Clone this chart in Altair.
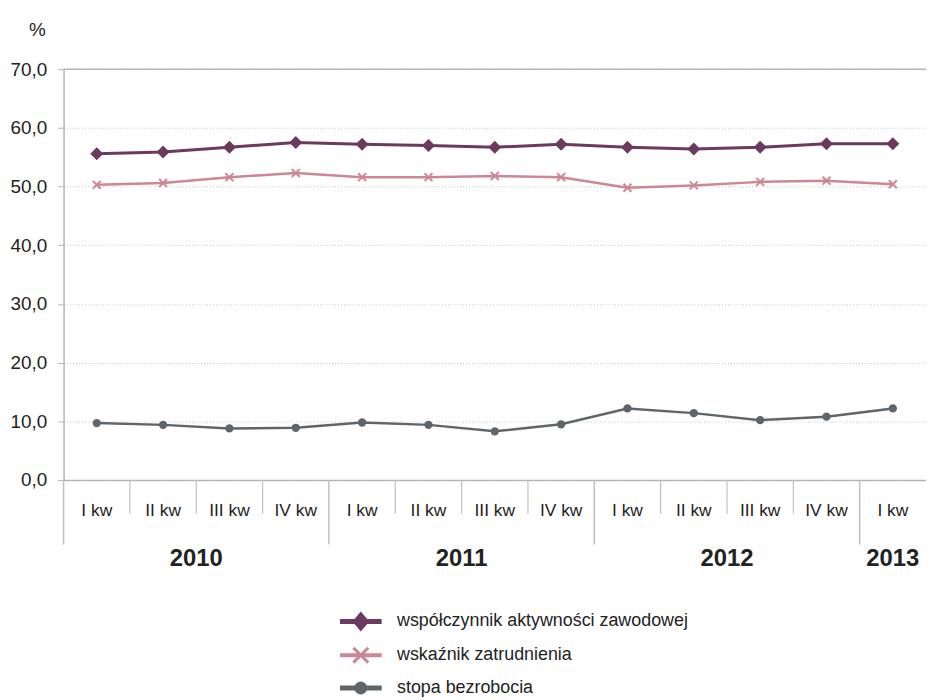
import math
import altair as alt
import pandas as pd

# ---- data ----
quarters = ["I kw", "II kw", "III kw", "IV kw",
            "I kw", "II kw", "III kw", "IV kw",
            "I kw", "II kw", "III kw", "IV kw",
            "I kw"]
years = ["2010", "2011", "2012", "2013"]
quarters_per_year = [4, 4, 4, 1]

activity = [55.6, 55.9, 56.7, 57.5, 57.2, 57.0, 56.7, 57.2, 56.7, 56.4, 56.7, 57.3, 57.3]
employment = [50.3, 50.6, 51.6, 52.3, 51.6, 51.6, 51.8, 51.6, 49.8, 50.2, 50.8, 51.0, 50.4]
unemployment = [9.7, 9.4, 8.8, 8.9, 9.8, 9.4, 8.3, 9.5, 12.2, 11.4, 10.2, 10.8, 12.2]

series_names = ["współczynnik aktywności zawodowej", "wskaźnik zatrudnienia", "stopa bezrobocia"]
y_ticks = [0, 10, 20, 30, 40, 50, 60, 70]
unit_label = "%"

# ---- styling ----
FONT = "Liberation Sans"
TXT = "#222222"
AX = "#b4b4b4"
C_ACT = "#6c3a5e"
C_EMP = "#cc8696"
C_UNE = "#5f6569"
W = 869
H = 414
N = len(quarters)

# ---- tables ----
pos = [i + 0.5 for i in range(N)]
df_act = pd.DataFrame({"x": pos, "y": activity})
df_emp = pd.DataFrame({"x": pos, "y": employment})
df_une = pd.DataFrame({"x": pos, "y": unemployment})
df_q = pd.DataFrame({"x": pos, "label": quarters})

starts = []
s = 0
for n in quarters_per_year:
    starts.append(s)
    s += n
df_years = pd.DataFrame({"x": [st + n / 2 for st, n in zip(starts, quarters_per_year)], "label": years})
df_ysep = pd.DataFrame({"x": starts})
df_qsep = pd.DataFrame({"x": [b for b in range(1, N) if b not in starts]})
df_top = pd.DataFrame({"y": [max(y_ticks)]})
df_leg = pd.DataFrame({"series": series_names})

xenc = alt.X("x:Q", scale=alt.Scale(domain=[0, N], nice=False, zero=False),
             axis=alt.Axis(labels=False, ticks=False, grid=False, title=None,
                           domainColor=AX, domainWidth=1.5))
yenc = alt.Y("y:Q", scale=alt.Scale(domain=[min(y_ticks), max(y_ticks)], nice=False),
             axis=alt.Axis(values=y_ticks,
                           labelExpr="replace(format(datum.value, '.1f'), '.', ',')",
                           grid=True, gridDash=[1, 2], gridColor="#c4c4c4",
                           tickSize=6, tickColor=AX, domainColor=AX, domainWidth=1.5,
                           labelFontSize=19, labelFont=FONT, labelColor=TXT, labelPadding=11,
                           title=unit_label, titleAngle=0, titleX=-27, titleY=-40,
                           titleAlign="center", titleBaseline="middle",
                           titleFontSize=19, titleFontWeight="normal", titleFont=FONT,
                           titleColor=TXT))

top_rule = alt.Chart(df_top).mark_rule(color=AX, strokeWidth=1.5).encode(
    y=yenc, x=alt.value(0), x2=alt.value(W))

qsep = alt.Chart(df_qsep).mark_rule(color="#c0c0c0", strokeWidth=1.2).encode(
    x=xenc, y=alt.value(H), y2=alt.value(H + 34))
ysep = alt.Chart(df_ysep).mark_rule(color="#c0c0c0", strokeWidth=1.5).encode(
    x=xenc, y=alt.value(H), y2=alt.value(H + 65))

qlab = alt.Chart(df_q).mark_text(font=FONT, fontSize=17.5, color=TXT, baseline="middle").encode(
    x=xenc, y=alt.value(H + 31), text="label:N")
ylab = alt.Chart(df_years).mark_text(font=FONT, fontSize=24, fontWeight="bold", color=TXT,
                                     baseline="middle").encode(
    x=xenc, y=alt.value(H + 80), text="label:N")

line_act = alt.Chart(df_act).mark_line(color=C_ACT, strokeWidth=3).encode(x=xenc, y=yenc)
pt_act = alt.Chart(df_act).mark_point(shape="diamond", filled=True, size=170, color=C_ACT,
                                      opacity=1).encode(x=xenc, y=yenc)
line_emp = alt.Chart(df_emp).mark_line(color=C_EMP, strokeWidth=2.5).encode(x=xenc, y=yenc)
pt_emp = alt.Chart(df_emp).mark_point(shape="M-1,-1L1,1M-1,1L1,-1", filled=False, size=64,
                                      strokeWidth=2, color=C_EMP, opacity=1).encode(x=xenc, y=yenc)
line_une = alt.Chart(df_une).mark_line(color=C_UNE, strokeWidth=2.5).encode(x=xenc, y=yenc)
pt_une = alt.Chart(df_une).mark_circle(size=70, color=C_UNE, opacity=1).encode(x=xenc, y=yenc)

# ---- legend symbols: line with marker, as filled paths (unit = sqrt(size)/2) ----
R = 16.5
L = 21 / R


def f(v):
    return f"{v:.3f}"


def bar(t):
    return f"M{f(-L)},{f(-t)}L{f(L)},{f(-t)}L{f(L)},{f(t)}L{f(-L)},{f(t)}Z"


t1 = 2.5 / R
hw, hh = 8.5 / R, 10 / R
p_act = bar(t1) + f"M0,{f(-hh)}L{f(hw)},0L0,{f(hh)}L{f(-hw)},0Z"

t2 = 2.0 / R
a = 7.5 / R
d = (1.5 / R) / math.sqrt(2)
p_emp = (bar(t2)
         + f"M{f(-a + d)},{f(-a - d)}L{f(a + d)},{f(a - d)}L{f(a - d)},{f(a + d)}L{f(-a - d)},{f(-a + d)}Z"
         + f"M{f(a + d)},{f(-a + d)}L{f(-a + d)},{f(a + d)}L{f(-a - d)},{f(a - d)}L{f(a - d)},{f(-a - d)}Z")

t3 = 2.5 / R
c = 6.5 / R
circ = "M" + "L".join(f"{f(c * math.cos(2 * math.pi * k / 28))},{f(c * math.sin(2 * math.pi * k / 28))}"
                      for k in range(28)) + "Z"
p_une = bar(t3) + circ

leg = alt.Legend(orient="none", legendX=283, legendY=540, direction="vertical", title=None,
                 symbolSize=R * R * 4, symbolStrokeWidth=0, symbolOpacity=1,
                 labelFont=FONT, labelFontSize=18, labelColor=TXT, labelLimit=500,
                 labelOffset=20, rowPadding=7, padding=0)
legend_layer = alt.Chart(df_leg).mark_point(filled=True, opacity=1).encode(
    x=alt.value(0), y=alt.value(-3000),
    color=alt.Color("series:N", scale=alt.Scale(domain=series_names, range=[C_ACT, C_EMP, C_UNE]),
                    legend=leg, sort=series_names),
    shape=alt.Shape("series:N", scale=alt.Scale(domain=series_names, range=[p_act, p_emp, p_une]),
                    legend=leg, sort=series_names),
)

chart = alt.layer(
    top_rule, qsep, ysep, qlab, ylab,
    line_emp, pt_emp, line_une, pt_une, line_act, pt_act,
    legend_layer,
).properties(
    width=W, height=H,
    autosize=alt.AutoSizeParams(type="none"),
    padding={"left": 56, "top": 59, "right": 0, "bottom": 219},
    background="white",
).configure_view(stroke=None)

chart.save("out.html", embed_options={"renderer": "svg", "actions": False})
